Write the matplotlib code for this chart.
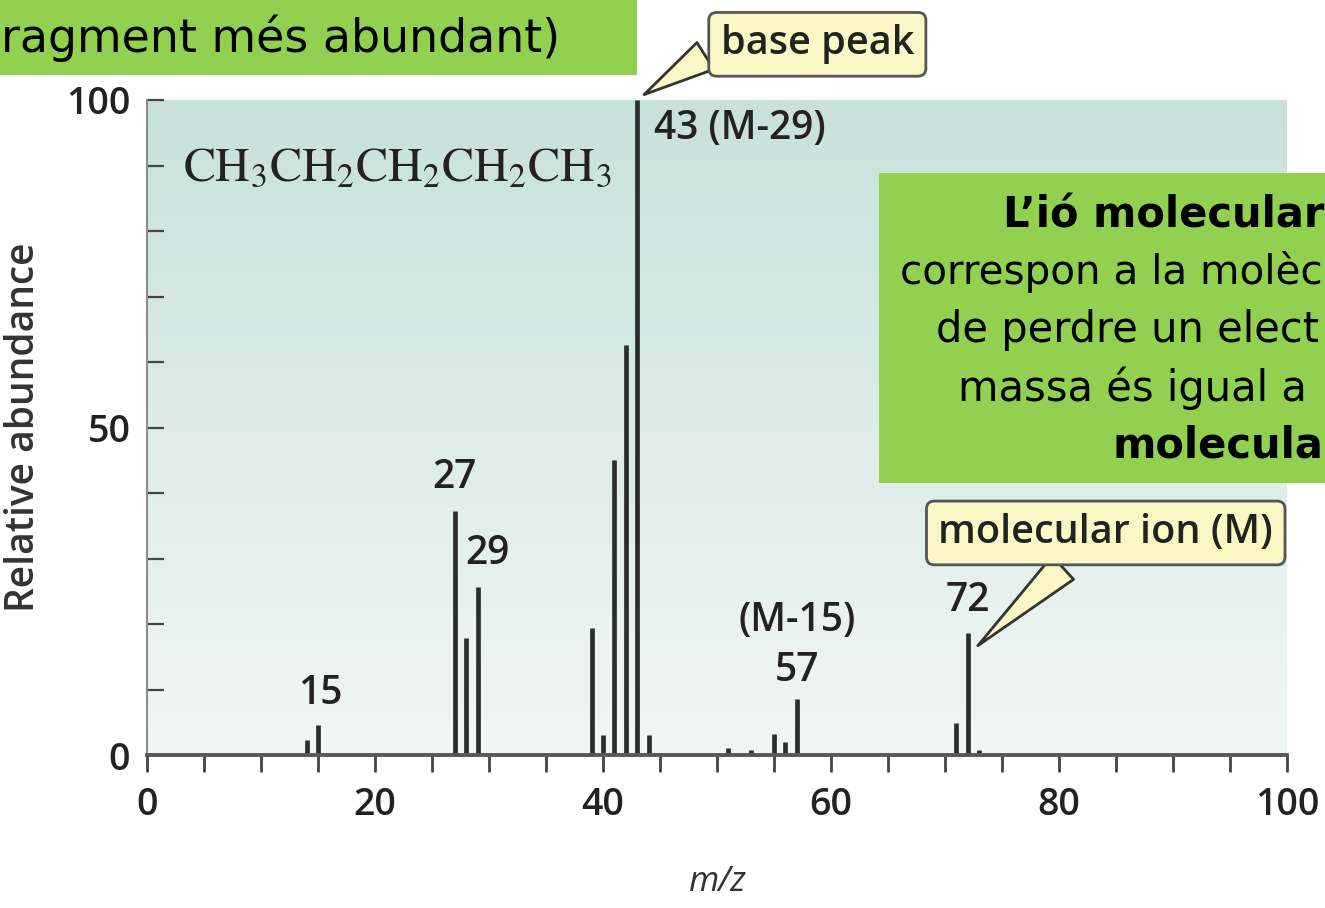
import numpy as np
import matplotlib
matplotlib.use("Agg")
import matplotlib.pyplot as plt
from matplotlib.patches import Rectangle
from matplotlib.colors import LinearSegmentedColormap

# ---- data ----
mz = [14, 15, 27, 28, 29, 39, 40, 41, 42, 43, 44, 51, 53, 55, 56, 57, 71, 72, 73]
abundance = [2.3, 4.6, 37.3, 17.9, 25.6, 19.4, 3.0, 45.0, 62.6, 100.0, 3.0,
             1.0, 0.8, 3.2, 2.0, 8.5, 4.9, 18.6, 0.8]
peak_labels = ["15", "27", "29", "43 (M-29)", "(M-15)", "57", "72"]
xticks_major = [0, 20, 40, 60, 80, 100]
yticks_major = [0, 50, 100]

plt.rcParams['mathtext.fontset'] = 'stix'
LBL = "Open Sans"

fig = plt.figure(figsize=(13.25, 9.08), dpi=100)
ax = fig.add_axes([147/1325, 1-755/908, (1287-147)/1325, (755-100)/908])

# gradient background
grad = np.linspace(0, 1, 256).reshape(-1, 1)
cmap = LinearSegmentedColormap.from_list("bg", ["#f1f7f5", "#c8e1da"])
ax.imshow(grad, aspect='auto', cmap=cmap, extent=[0, 100, 0, 100.5], origin='lower', zorder=0)

ax.vlines(mz, 0, abundance, colors="#2a2f2e", linewidth=3.4, zorder=3)

ax.set_xlim(0, 100)
ax.set_ylim(0, 100)
for s in ["top", "right"]:
    ax.spines[s].set_visible(False)
ax.spines["bottom"].set_color("#555a58")
ax.spines["bottom"].set_linewidth(2.8)
ax.spines["left"].set_color("#8a8f8d")
ax.spines["left"].set_linewidth(1.5)
ax.spines["bottom"].set_zorder(4)

ax.set_xticks(xticks_major)
ax.set_xticks(np.arange(0, 101, 5), minor=True)
ax.set_yticks(yticks_major)
ax.set_yticks(np.arange(0, 101, 10), minor=True)
ax.tick_params(axis='x', which='both', direction='out', length=12, width=2, color="#444",
               labelsize=27, pad=10)
ax.tick_params(axis='y', which='both', direction='in', length=12, width=1.6, color="#444",
               labelsize=27, pad=12)
for lab in ax.get_xticklabels() + ax.get_yticklabels():
    lab.set_fontfamily(LBL)
    lab.set_fontweight('semibold')
    lab.set_color("#222")

ax.set_ylabel("Relative abundance", fontsize=28, family=LBL, fontweight='semibold',
              color="#333", labelpad=16)
ax.set_xlabel("m/z", fontsize=25, family=LBL, style='italic', color="#333", labelpad=30)

# formula
ax.text(3.2, 89.8, r"$\mathrm{CH_3CH_2CH_2CH_2CH_3}$", fontsize=34.5, va='center', ha='left',
        color="#222", zorder=5)

# peak labels
kw = dict(fontsize=28, family=LBL, fontweight='semibold', color="#222", zorder=5)
ax.text(15.2, 6.3, peak_labels[0], ha='center', va='bottom', **kw)
ax.text(27.0, 39.2, peak_labels[1], ha='center', va='bottom', **kw)
ax.text(29.9, 27.6, peak_labels[2], ha='center', va='bottom', **kw)
ax.text(44.5, 95.5, peak_labels[3], ha='left', va='center', **kw)
ax.text(57.0, 17.4, peak_labels[4], ha='center', va='bottom', **kw)
ax.text(57.0, 9.8, peak_labels[5], ha='center', va='bottom', **kw)
ax.text(72.0, 20.4, peak_labels[6], ha='center', va='bottom', **kw)

# callouts
bbox = dict(boxstyle="round,pad=0.3,rounding_size=0.2", fc="#fcf8c6", ec="#555", lw=2)
ax.annotate("base peak", xy=(43.4, 100.6), xytext=(58.8, 108.5), textcoords='data',
            ha='center', va='center', fontsize=28.5, family=LBL, fontweight='semibold',
            color="#222", bbox=bbox, annotation_clip=False, zorder=6,
            arrowprops=dict(arrowstyle="wedge,tail_width=0.8,shrink_factor=0.5",
                            fc="#fcf8c6", ec="#333", lw=2,
                            connectionstyle="arc3,rad=0", relpos=(0.0, 0.45)))
ax.annotate("molecular ion (M)", xy=(72.7, 16.4), xytext=(84.1, 33.9), textcoords='data',
            ha='center', va='center', fontsize=28.5, family=LBL, fontweight='semibold',
            color="#222", bbox=bbox, annotation_clip=False, zorder=6,
            arrowprops=dict(arrowstyle="wedge,tail_width=0.8,shrink_factor=0.5",
                            fc="#fcf8c6", ec="#333", lw=2,
                            connectionstyle="arc3,rad=0", relpos=(0.42, 0.0)))

# green slide boxes
GREEN = "#92d050"
fig.patches.append(Rectangle((0, 1-75/908), 637/1325, 75/908, transform=fig.transFigure,
                             fc=GREEN, ec='none', zorder=10))
fig.text(1/1325, 1-38/908, "ragment més abundant)", fontsize=33, family="DejaVu Sans",
         ha='left', va='center', color="black", zorder=11)

fig.patches.append(Rectangle((879/1325, 1-483/908), (1325-879)/1325, (483-173)/908,
                             transform=fig.transFigure, fc=GREEN, ec='none', zorder=10))
box_lines = ["L’ió molecular", "correspon a la molèc", "de perdre un elect",
             "massa és igual a", "molecula"]
box_x = [1003, 900, 936, 958, 1113]
box_y = [215, 272, 330, 388, 446]
box_w = ['bold', 'normal', 'normal', 'normal', 'bold']
box_fs = [30, 29.2, 30, 30, 30]
for t, x, y, w, fs in zip(box_lines, box_x, box_y, box_w, box_fs):
    fig.text(x/1325, 1-y/908, t, fontsize=fs, family="DejaVu Sans", fontweight=w,
             ha='left', va='center', color="black", zorder=11)

fig.savefig("out.png", dpi=100)
